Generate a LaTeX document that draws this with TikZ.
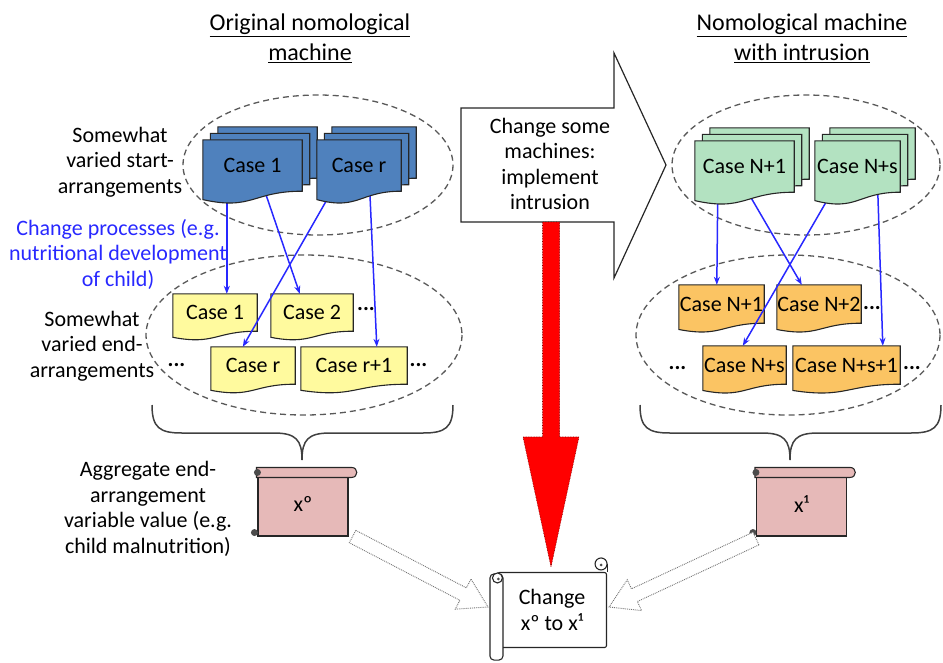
\documentclass[tikz,border=0pt]{standalone}
\usepackage{fontspec}
\setmainfont{Carlito}
\usetikzlibrary{calc,arrows.meta}
\pgfdeclarelayer{back}\pgfdeclarelayer{mid}\pgfdeclarelayer{top}
\pgfsetlayers{back,mid,top,main}
\definecolor{docblue}{HTML}{4F81BD}
\definecolor{docgreen}{HTML}{B3E2C1}
\definecolor{docyellow}{HTML}{FFFA9E}
\definecolor{docorange}{HTML}{FBC463}
\definecolor{scrollpink}{HTML}{E6B9B8}
\definecolor{procblue}{RGB}{40,40,255}
\newcommand\docshape[3]{\path[#2] (#1.north west) -- (#1.north east) -- (#1.south east) .. controls (#1.south) and ([yshift={-0.382*#3}]#1.south) .. ([yshift={-0.165*#3}]#1.south west) -- cycle;}
\newcommand\hollowarrow[2]{%
  \coordinate (hh) at ($(#2)!28pt!(#1)$);
  \draw[hollow] ($(#1)!7pt!90:(#2)$) -- ($(hh)!7pt!90:(#2)$) -- ($(hh)!17pt!90:(#2)$) -- (#2) -- ($(hh)!17pt!-90:(#2)$) -- ($(hh)!7pt!-90:(#2)$) -- ($(#1)!7pt!-90:(#2)$) -- cycle;}
\tikzset{
  base/.style={font=\fontsize{22}{25.5}\selectfont, align=center, inner sep=0pt},
  titletext/.style={font=\fontsize{24}{30}\selectfont, align=center, inner sep=0pt},
  docn/.style={base, minimum height=#1},
  docn/.default=51,
  bluedoc/.style={draw=black!85, line width=1.1pt, fill=docblue},
  greendoc/.style={draw=black!85, line width=1.1pt, fill=docgreen},
  yellowdoc/.style={draw=black!85, line width=1.1pt, fill=docyellow},
  orangedoc/.style={draw=black!85, line width=1.1pt, fill=docorange},
  grp/.style={draw=black!65, line width=1.3pt, dash pattern=on 6pt off 4pt},
  flow/.style={draw=procblue, line width=1.5pt, -{Stealth[length=8pt,width=6pt]}},
  brace/.style={draw=black!75, line width=1.5pt},
  hollow/.style={draw=black!55, densely dotted, line width=0.9pt, fill=white},
  scrollb/.style={base, draw=black!85, line width=1.1pt, fill=scrollpink, minimum width=90, minimum height=64},
  scrollline/.style={draw=black!85, line width=1.1pt},
  dots/.style={font=\fontsize{22}{25.5}\selectfont\bfseries, inner sep=0pt, anchor=base}
}
\begin{document}
\begin{tikzpicture}[x=1pt,y=-1pt]
\useasboundingbox (0,0) rectangle (943,662);
% titles
\node[titletext] (t1) at (310,38) {\underline{Original nomological}\\\underline{machine}};
\node[titletext] (t2) at (802,38) {\underline{Nomological machine}\\\underline{with intrusion}};
% group ellipses
\begin{pgfonlayer}{back}
\draw[grp] (318,165) ellipse [x radius=135, y radius=70];
\draw[grp] (304,335) ellipse [x radius=158, y radius=80];
\draw[grp] (806,165) ellipse [x radius=134, y radius=70];
\draw[grp] (788,335) ellipse [x radius=152, y radius=80];
\end{pgfonlayer}
% left labels
\node[base] (lstart) at (120,162) {Somewhat\\varied start-\\arrangements};
\node[base, text=procblue] (lproc) at (118,254) {Change processes (e.g.\\nutritional development\\of child)};
\node[base] (lend) at (92,346) {Somewhat\\varied end-\\arrangements};
\node[base] (lagg) at (148,509) {Aggregate end-\\arrangement\\variable value (e.g.\\child malnutrition)};
% blue start stacks
\node[docn, minimum width=99] (b1c) at (267.5,152.5) {};
\node[docn, minimum width=99] (b1b) at (260,159) {};
\node[docn, minimum width=99] (b1) at (252.5,165.5) {Case 1};
\node[docn, minimum width=84] (brc) at (374,152.5) {};
\node[docn, minimum width=84] (brb) at (366.5,159) {};
\node[docn, minimum width=84] (br) at (359,165.5) {Case r};
% green start stacks
\node[docn, minimum width=99] (g1c) at (759.5,153.5) {};
\node[docn, minimum width=99] (g1b) at (752,160) {};
\node[docn, minimum width=99] (g1) at (744.5,166.5) {Case N+1};
\node[docn, minimum width=85] (gsc) at (872.5,153.5) {};
\node[docn, minimum width=85] (gsb) at (865,160) {};
\node[docn, minimum width=85] (gs) at (857.5,166.5) {Case N+s};
\begin{pgfonlayer}{top}
\docshape{b1c}{bluedoc}{51}\docshape{b1b}{bluedoc}{51}\docshape{b1}{bluedoc}{51}
\docshape{brc}{bluedoc}{51}\docshape{brb}{bluedoc}{51}\docshape{br}{bluedoc}{51}
\docshape{g1c}{greendoc}{51}\docshape{g1b}{greendoc}{51}\docshape{g1}{greendoc}{51}
\docshape{gsc}{greendoc}{51}\docshape{gsb}{greendoc}{51}\docshape{gs}{greendoc}{51}
\end{pgfonlayer}
% end arrangements
\node[docn=37, minimum width=84] (y1) at (215,312.5) {Case 1};
\node[docn=37, minimum width=82] (y2) at (312,312.5) {Case 2};
\node[docn=37, minimum width=84] (yr) at (253,365.5) {Case r};
\node[docn=37, minimum width=106] (yr1) at (354,365.5) {Case r+1};
\node[docn=38, minimum width=85] (o1) at (721.5,304) {Case N+1};
\node[docn=38, minimum width=84] (o2) at (819,304) {Case N+2};
\node[docn=38, minimum width=83] (os) at (744.5,365) {Case N+s};
\node[docn=38, minimum width=107] (os1) at (846.5,365) {Case N+s+1};
\begin{pgfonlayer}{back}
\docshape{y1}{yellowdoc}{37}\docshape{y2}{yellowdoc}{37}\docshape{yr}{yellowdoc}{37}\docshape{yr1}{yellowdoc}{37}
\docshape{o1}{orangedoc}{38}\docshape{o2}{orangedoc}{38}\docshape{os}{orangedoc}{38}\docshape{os1}{orangedoc}{38}
\end{pgfonlayer}
% dots
\node[dots] (d1) at (366,310) {...};
\node[dots] (d2) at (176.5,366) {...};
\node[dots] (d3) at (418.5,366) {...};
\node[dots] (d4) at (872,309) {...};
\node[dots] (d5) at (677.5,369) {...};
\node[dots] (d6) at (912,369) {...};
% process arrows
\begin{pgfonlayer}{mid}
\draw[flow] ([xshift=24]b1.south west) -- ([xshift=54]y1.north west);
\draw[flow] ([xshift=62]b1.south west) -- ([xshift=29]y2.north west);
\draw[flow] ([xshift=15]br.south west) -- ([xshift=32]yr.north west);
\draw[flow] ([xshift=53]br.south west) -- ([xshift=76]yr1.north west);
\draw[flow] ([xshift=23]g1.south west) -- ([xshift=38]o1.north west);
\draw[flow] ([xshift=53]g1.south west) -- ([xshift=25]o2.north west);
\draw[flow] ([xshift=17]gs.south west) -- ([xshift=40]os.north west);
\draw[flow] ([xshift=63]gs.south west) -- ([xshift=90]os1.north west);
\end{pgfonlayer}
% braces
\begin{pgfonlayer}{back}
\draw[brace] (152,405) .. controls (152,428) and (160,433) .. (182,433) -- (274,433) .. controls (296,433) and (302,440) .. (302,460) .. controls (302,440) and (308,433) .. (330,433) -- (423,433) .. controls (445,433) and (453,428) .. (453,405);
\draw[brace] (640,405) .. controls (640,428) and (648,433) .. (670,433) -- (762,433) .. controls (784,433) and (790,440) .. (790,460) .. controls (790,440) and (796,433) .. (818,433) -- (911,433) .. controls (933,433) and (941,428) .. (941,405);
\end{pgfonlayer}
% aggregate scrolls
\node[scrollb] (x0) at (303,504) {xº};
\node[scrollb] (x1) at (801.5,504) {x¹};
\foreach \s in {x0,x1}{
  \draw[scrollline, fill=scrollpink] ($(\s.north west)+(-1,-4)$) -- ($(\s.north east)+(3,-4)$) .. controls +(7,0) and +(7,0) .. ($(\s.north east)+(3,6)$) -- ($(\s.north west)+(-1,6)$) -- cycle;
  \fill[black!70] ($(\s.north west)+(0,1)$) circle[radius=3.5pt];
  \fill[black!70] ($(\s.south west)+(-3,-4)$) circle[radius=3.5pt];
}
% change scroll
\node[base, draw=black!85, line width=1.1pt, fill=white, minimum width=109, minimum height=75, rounded corners=2pt] (chg) at (552,610) {Change\\xº to x¹};
\draw[scrollline, fill=white, rounded corners=4pt] ($(chg.north west)+(-7,2)$) rectangle ($(chg.south west)+(6,12)$);
\draw[scrollline, fill=white] ($(chg.north west)+(0.5,6)$) circle[radius=5pt];
\fill[black!70] ($(chg.north west)+(1.5,7)$) circle[radius=1.5pt];
\draw[scrollline] ($(chg.north east)+(0,0)$) -- ($(chg.north east)+(0,-8)$);
\draw[scrollline, fill=white] ($(chg.north east)+(-6,-8)$) circle[radius=6pt];
\fill[black!70] ($(chg.north east)+(-6,-7)$) circle[radius=1.5pt];
% intrusion arrow
\node[base] (intr) at (550,164) {Change some\\machines:\\implement\\intrusion};
\coordinate (rs) at ($(intr.center)+(1,58)$);
\coordinate (rt) at ($(rs |- chg.north)+(0,-5)$);
\begin{pgfonlayer}{back}
\draw[line width=1.2pt, draw=black!85, fill=white] ($(intr.center)+(-89,-56)$) -- ($(intr.center)+(64,-56)$) -- ($(intr.center)+(64,-111)$) -- ($(intr.center)+(116,1)$) -- ($(intr.center)+(64,114)$) -- ($(intr.center)+(64,58)$) -- ($(intr.center)+(-89,58)$) -- cycle;
\draw[fill=red, draw=red!50!black, densely dotted, line width=0.6pt] ($(rs)+(-8.5,0)$) -- ($(rt)+(-8.5,-130)$) -- ($(rt)+(-28,-130)$) -- (rt) -- ($(rt)+(28,-130)$) -- ($(rt)+(8.5,-130)$) -- ($(rs)+(8.5,0)$) -- cycle;
\end{pgfonlayer}
% hollow arrows
\coordinate (ha1) at ($(x0.south east)+(4,0)$);
\coordinate (hb1) at ($(chg.west)+(-9,-3)$);
\coordinate (ha2) at ($(x1.south west)+(0,2)$);
\coordinate (hb2) at ($(chg.east)+(2,-3)$);
\hollowarrow{ha1}{hb1}
\hollowarrow{ha2}{hb2}
\end{tikzpicture}
\end{document}
